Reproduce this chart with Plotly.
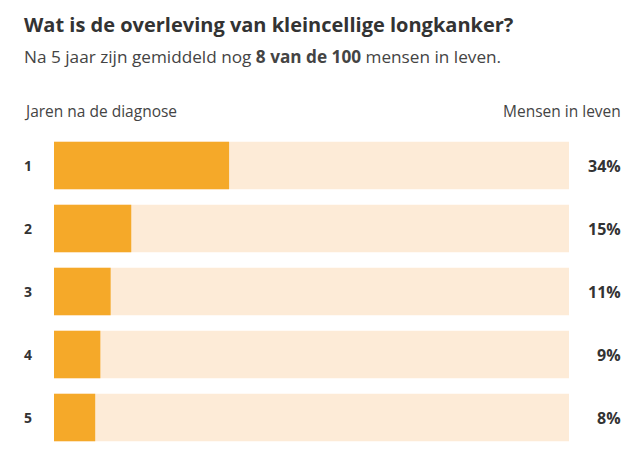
import plotly.graph_objects as go

years = ["1", "2", "3", "4", "5"]
survival = [34, 15, 11, 9, 8]
total = [100, 100, 100, 100, 100]
pct_labels = ["34%", "15%", "11%", "9%", "8%"]

title_text = "Wat is de overleving van kleincellige longkanker?"
subtitle_text = "Na 5 jaar zijn gemiddeld nog <b>8 van de 100</b> mensen in leven."
left_header = "Jaren na de diagnose"
right_header = "Mensen in leven"

ORANGE = "#F5A929"
LIGHT = "#FDEBD7"
DARK = "#333333"
FONT = "Open Sans"

W, H = 636, 461
L, R, T, B = 54, 67, 134, 12
PW = W - L - R
PH = H - T - B

def px_x(x):
    return (x - L) / PW

def px_y(y):
    return (H - B - y) / PH

fig = go.Figure()
fig.add_trace(go.Bar(y=years, x=total, orientation="h", marker=dict(color=LIGHT, line=dict(width=0)),
                     width=0.754, hoverinfo="skip"))
fig.add_trace(go.Bar(y=years, x=survival, orientation="h", marker=dict(color=ORANGE, line=dict(width=0)),
                     width=0.754, hoverinfo="skip"))

ann = []
ann.append(dict(text="<b>" + title_text + "</b>", x=px_x(22), y=px_y(25), xref="paper", yref="paper",
                xanchor="left", yanchor="middle", showarrow=False, font=dict(family=FONT, size=20, color=DARK)))
ann.append(dict(text=subtitle_text, x=px_x(22), y=px_y(56), xref="paper", yref="paper",
                xanchor="left", yanchor="middle", showarrow=False, font=dict(family=FONT, size=17.2, color="#444444")))
ann.append(dict(text=left_header, x=px_x(22), y=px_y(111), xref="paper", yref="paper",
                xanchor="left", yanchor="middle", showarrow=False, font=dict(family=FONT, size=15.5, color="#444444")))
ann.append(dict(text=right_header, x=px_x(623), y=px_y(111), xref="paper", yref="paper",
                xanchor="right", yanchor="middle", showarrow=False, font=dict(family=FONT, size=15.5, color="#444444")))
for i, (yr, lab) in enumerate(zip(years, pct_labels)):
    ann.append(dict(text="<b>" + yr + "</b>", x=px_x(22), y=i, xref="paper", yref="y",
                    xanchor="left", yanchor="middle", showarrow=False, font=dict(family=FONT, size=14, color=DARK)))
    ann.append(dict(text="<b>" + lab + "</b>", x=px_x(623), y=i, xref="paper", yref="y",
                    xanchor="right", yanchor="middle", showarrow=False, font=dict(family=FONT, size=16, color=DARK)))

fig.update_layout(
    width=W, height=H, autosize=False,
    margin=dict(l=L, r=R, t=T, b=B),
    barmode="overlay",
    showlegend=False,
    plot_bgcolor="white", paper_bgcolor="white",
    xaxis=dict(range=[0, 100], visible=False, fixedrange=True),
    yaxis=dict(type="category", categoryorder="array", categoryarray=years,
               range=[4.5, -0.5], autorange=False, visible=False, fixedrange=True),
    annotations=ann,
    font=dict(family=FONT),
)

fig.write_html("out.html", config={"displayModeBar": False},
               post_script="document.body.style.margin='0';document.body.style.overflow='hidden';")
